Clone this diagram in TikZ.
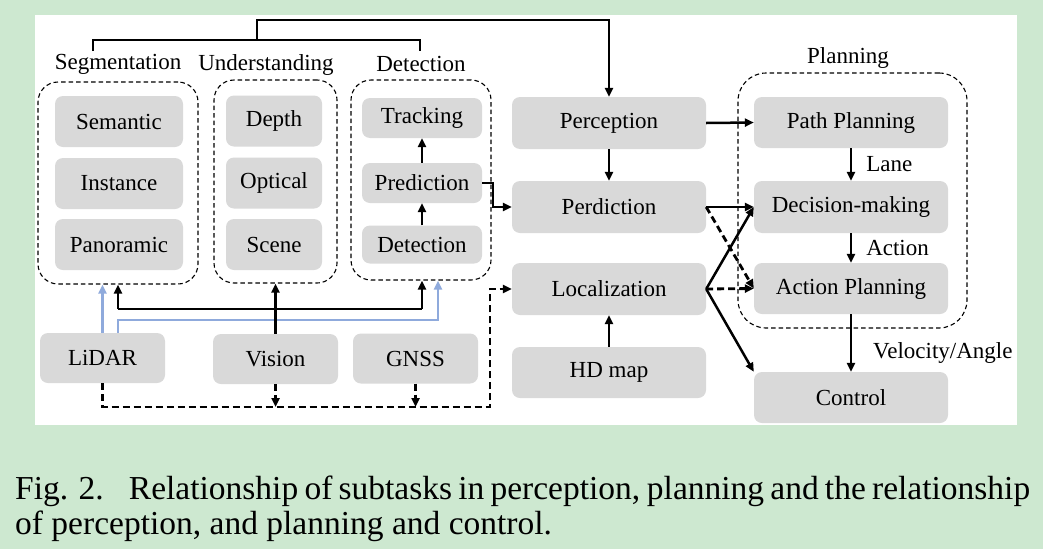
\documentclass[tikz,border=0pt]{standalone}
\usepackage{fontspec}
\setmainfont{Liberation Serif}
\usetikzlibrary{arrows.meta,calc}
\definecolor{bggreen}{HTML}{CDE8D0}
\definecolor{boxgray}{HTML}{D9D9D9}
\definecolor{lidarblue}{HTML}{8FAADC}
\begin{document}
\begin{tikzpicture}[x=1pt,y=-1pt,
  box/.style={fill=boxgray, rounded corners=8pt, inner sep=0pt, font=\fontsize{23}{26}\selectfont},
  grp/.style={draw, line width=1.1pt, dash pattern=on 4.5pt off 3pt, rounded corners=20pt, inner sep=0pt},
  lbl/.style={font=\fontsize{23}{26}\selectfont, inner sep=0pt},
  tip/.style={-{Triangle[length=9pt,width=8pt]}},
  arr/.style={line width=2.5pt, tip},
  darr/.style={line width=2.8pt, dash pattern=on 7pt off 4pt, tip},
  barr/.style={line width=2.4pt, draw=lidarblue, -{Triangle[length=9pt,width=8pt,fill=lidarblue]}},
  capt/.style={font=\fontsize{33.5}{36}\selectfont, inner sep=0pt, anchor=base west}
]
\useasboundingbox (0,0) rectangle (1043,549);
\fill[bggreen] (0,0) rectangle (1043,549);
\fill[white] (35,15) rectangle (1017,425);

% group boxes
\node[grp, minimum width=160pt, minimum height=202pt] (g1) at (118,183) {};
\node[grp, minimum width=123pt, minimum height=203pt] (g2) at (275.5,181.5) {};
\node[grp, minimum width=140pt, minimum height=200pt] (g3) at (421,180) {};
\node[grp, rounded corners=28pt, minimum width=229pt, minimum height=255pt] (g4) at (852.5,200.5) {};

\node[lbl] (lseg) at (118,64) {Segmentation};
\node[lbl] (lund) at (266,65) {Understanding};
\node[lbl] (ldet) at (421,64) {Detection};
\node[lbl] (lplan) at (848,58) {Planning};

% segmentation
\node[box, minimum width=128pt, minimum height=51pt] (sem) at (119,121.5) {Semantic};
\node[box, minimum width=128pt, minimum height=51pt] (ins) at (119,183.5) {Instance};
\node[box, minimum width=128pt, minimum height=51pt] (pan) at (119,244.5) {Panoramic};
% understanding
\node[box, minimum width=96pt, minimum height=51pt] (dep) at (274,121) {Depth};
\node[box, minimum width=96pt, minimum height=51pt] (opt) at (274,183) {Optical};
\node[box, minimum width=96pt, minimum height=51pt] (sce) at (274,244.5) {Scene};
% detection
\node[box, minimum width=120pt, minimum height=40pt] (trk) at (422,118) {Tracking};
\node[box, minimum width=120pt, minimum height=40pt] (pred) at (422,183) {Prediction};
\node[box, minimum width=120pt, minimum height=38pt] (det) at (422,244.5) {Detection};
% sensors
\node[box, minimum width=125pt, minimum height=50pt] (lidar) at (102.5,358) {LiDAR};
\node[box, minimum width=125pt, minimum height=50pt] (vision) at (275.5,359) {Vision};
\node[box, minimum width=125pt, minimum height=50pt] (gnss) at (415.5,358.5) {GNSS};
% middle column
\node[box, minimum width=194pt, minimum height=52pt] (perc) at (609,123) {Perception};
\node[box, minimum width=194pt, minimum height=52pt] (perd) at (609,207) {Perdiction};
\node[box, minimum width=194pt, minimum height=52pt] (loc) at (609,289) {Localization};
\node[box, minimum width=194pt, minimum height=51pt] (hd) at (609,372.5) {HD map};
% right column
\node[box, minimum width=194pt, minimum height=51pt] (path) at (851,122.5) {Path Planning};
\node[box, minimum width=194pt, minimum height=52pt] (dec) at (851,207) {Decision-making};
\node[box, minimum width=194pt, minimum height=51pt] (act) at (851,288.5) {Action Planning};
\node[box, minimum width=194pt, minimum height=51pt] (ctrl) at (851,397.5) {Control};

% top bracket
\coordinate (bk1) at (93,51);
\coordinate (bk2) at (93,40);
\coordinate (bk3) at (420,40);
\coordinate (bk4) at (420,51);
\coordinate (bkm) at (257,40);
\coordinate (bkt) at (257,20);
\draw[line width=2.6pt] (bk1) -- (bk2) -- (bk3) -- (bk4);
\draw[arr] (bkm) -- (bkt) -| (perc.north);

% detection internal
\draw[arr] (det.north) -- (pred.south);
\draw[arr] (pred.north) -- (trk.south);
\draw[arr] (pred.east) -- ++(11,0) |- (perd.west);

% blue lidar lines
\coordinate (bL) at (118,320);
\coordinate (bR) at (438,320);
\draw[barr] (lidar.north) -- (lidar.north |- g1.south);
\draw[barr] (bL |- lidar.north) -- (bL) -- (bR) -- (bR |- g3.south);

% black vision lines
\coordinate (jL) at (118,309);
\coordinate (jR) at (422,309);
\draw[line width=2.5pt] (jL) -- (jR);
\draw[arr] (jL) -- (jL |- g1.south);
\draw[arr] (jR) -- (jR |- g3.south);
\draw[arr] (vision.north) -- (g2.south);

% dashed sensor bus
\coordinate (d1) at (101,407);
\coordinate (d2) at (490,407);
\draw[darr] (lidar.south) -- (lidar.south |- d1) -- (d2) -- (d2 |- loc.west) -- (loc.west);
\draw[darr] (vision.south) -- (vision.south |- d1);
\draw[darr] (gnss.south) -- (gnss.south |- d1);

% middle to right
\draw[arr] (perc.east) -- (path.west);
\draw[arr] (perc.south) -- (perd.north);
\draw[arr] (hd.north) -- (loc.south);
\draw[arr] (perd.east) -- (dec.west);
\draw[darr] (perd.east) -- (act.west);
\draw[arr] (loc.east) -- (dec.west);
\draw[darr] (loc.east) -- (act.west);
\draw[arr] (loc.east) -- (ctrl.north west);

% planning internal
\draw[arr] (path.south) -- node[lbl, anchor=west, xshift=14pt] (llane) {Lane} (dec.north);
\draw[arr] (dec.south) -- node[lbl, anchor=west, xshift=14pt] (lact) {Action} (act.north);
\draw[arr] (act.south) -- (ctrl.north);
\node[lbl, anchor=west] (lvel) at (873,353) {Velocity/Angle};

% caption
\node[capt] (cap1) at (15,499) {\makebox[1015pt][s]{Fig. 2.\hspace{0.75em}Relationship of subtasks in perception, planning and the relationship}};
\node[capt] (cap2) at (15,534) {of perception, and planning and control.};
\end{tikzpicture}
\end{document}
